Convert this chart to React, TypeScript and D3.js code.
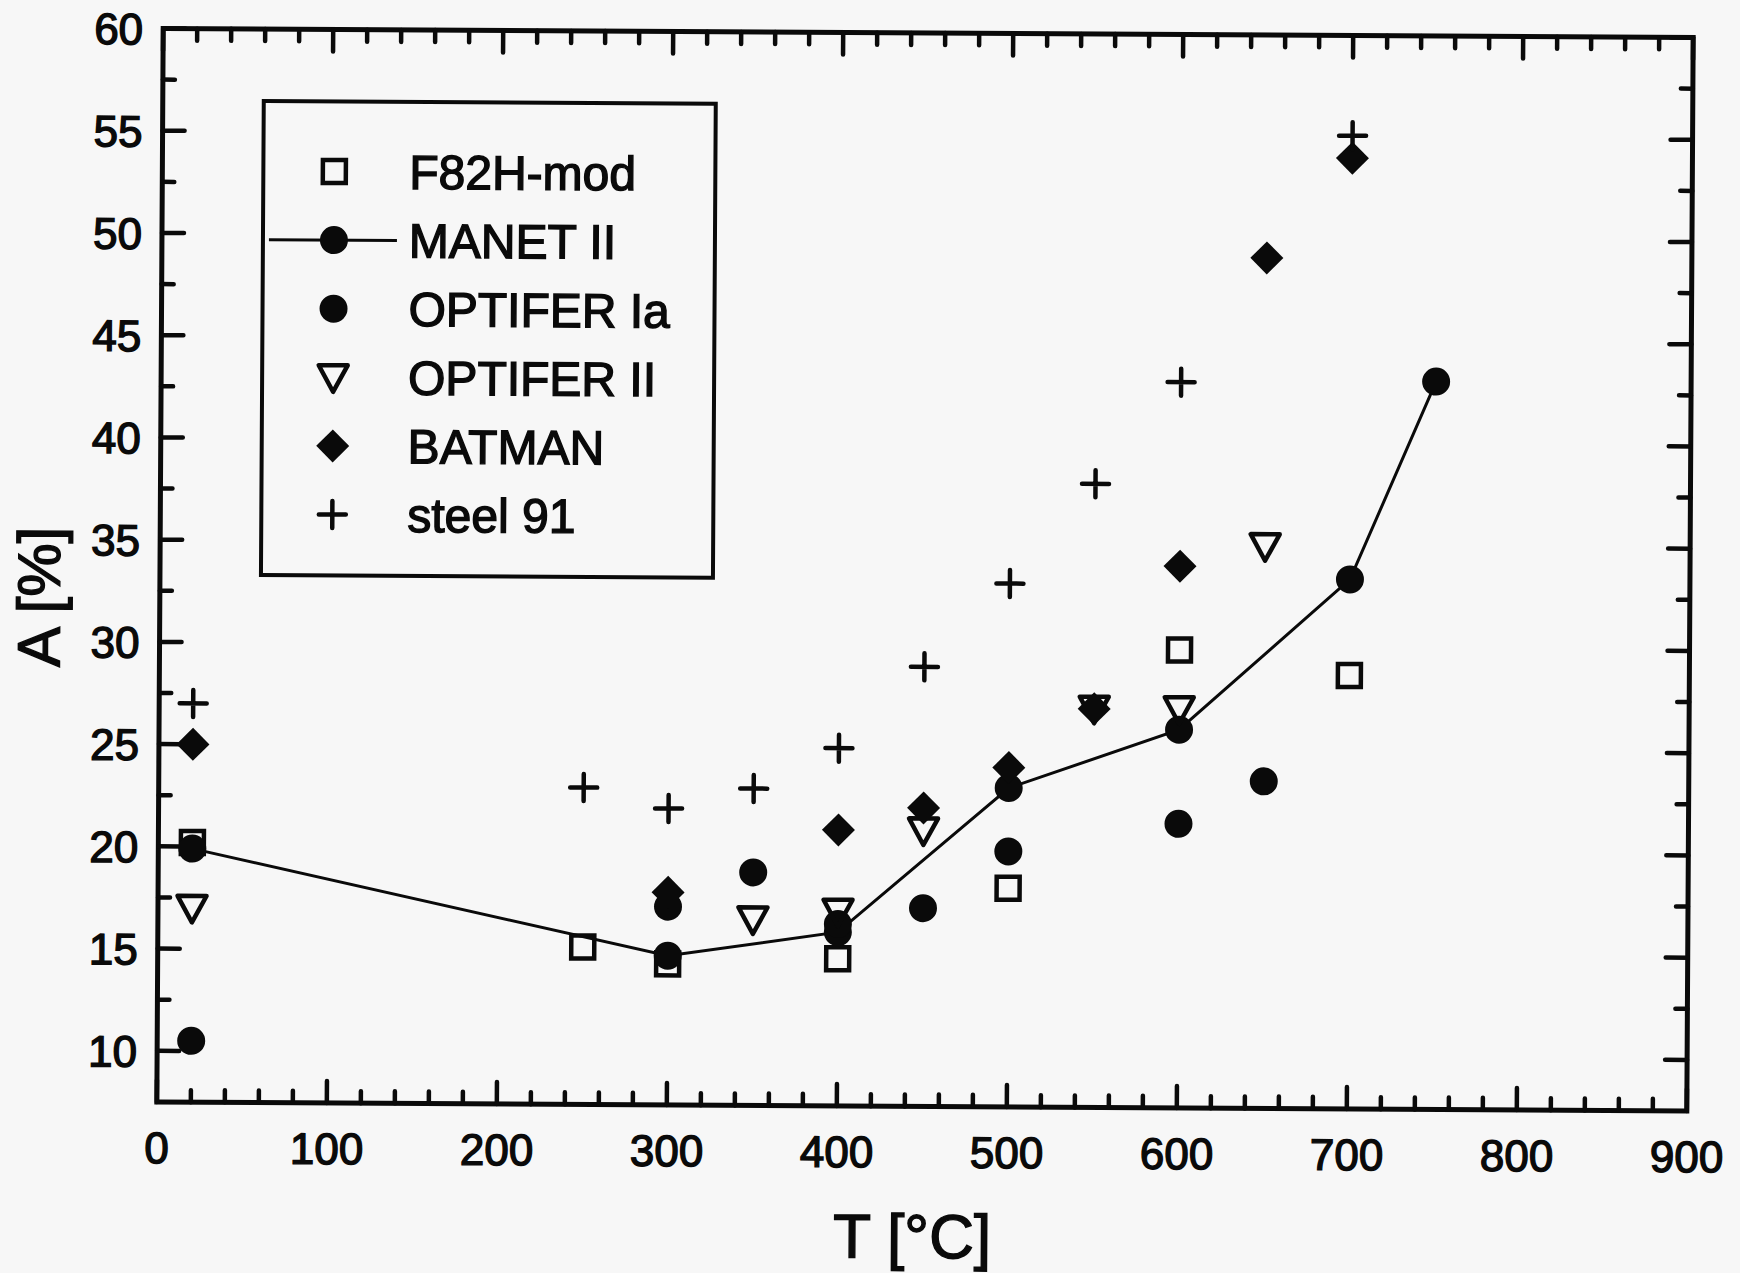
import React from "react";
import * as d3 from "d3";

// ---- data (T in °C, A in %) ----
const f82hMod: [number, number][] = [[20, 20.2], [250, 15.2], [300, 14.4], [400, 14.7], [500, 18.2], [600, 29.9], [700, 28.7]];
const manetII: [number, number][] = [[20, 19.9], [300, 14.8], [400, 16.0], [500, 23.1], [600, 26.0], [700, 33.4], [750, 43.1]];
const optiferIa: [number, number][] = [[20, 10.5], [300, 17.2], [350, 18.9], [400, 16.4], [450, 17.2], [500, 20.0], [600, 21.4], [650, 23.5]];
const optiferII: [number, number][] = [[20, 17.0], [350, 16.6], [400, 17.0], [450, 21.0], [550, 27.0], [600, 27.0], [650, 35.0]];
const batman: [number, number][] = [[20, 25.0], [300, 17.9], [400, 21.0], [450, 22.1], [500, 24.1], [550, 27.0], [600, 34.0], [650, 49.1], [700, 54.0]];
const steel91: [number, number][] = [[20, 27.0], [250, 23.0], [300, 22.0], [350, 23.0], [400, 25.0], [450, 29.0], [500, 33.1], [550, 38.0], [600, 43.0], [700, 55.1]];

const legendLabels = ["F82H-mod", "MANET II", "OPTIFER Ia", "OPTIFER II", "BATMAN", "steel 91"];
const xMajorTicks = [0, 100, 200, 300, 400, 500, 600, 700, 800, 900];
const yMajorTicks = [10, 15, 20, 25, 30, 35, 40, 45, 50, 55, 60];
const xTitle = "T [°C]";
const yTitle = "A [%]";

const W = 1740;
const H = 1273;
const INK = "#0a0a0a";
const BG = "#f7f7f7";
const FONT = "'Liberation Sans', Arial, Helvetica, sans-serif";
const TXT_STROKE = 1.4;

type Kind = "square" | "lineCircle" | "circle" | "triangle" | "diamond" | "plus";

function Marker({ kind, cx, cy }: { kind: Kind; cx: number; cy: number }) {
  switch (kind) {
    case "square":
      return <rect x={cx - 11.5} y={cy - 11.5} width={23} height={23} fill="none" stroke={INK} strokeWidth={4.5} />;
    case "lineCircle":
    case "circle":
      return <circle cx={cx} cy={cy} r={14} fill={INK} />;
    case "triangle":
      return (
        <path
          d={`M${cx - 14.5},${cy - 12}L${cx + 14.5},${cy - 12}L${cx},${cy + 14.5}Z`}
          fill="none"
          stroke={INK}
          strokeWidth={4.5}
          strokeLinejoin="round"
        />
      );
    case "diamond":
      return <path d={`M${cx},${cy - 16.5}L${cx + 16.5},${cy}L${cx},${cy + 16.5}L${cx - 16.5},${cy}Z`} fill={INK} />;
    case "plus":
      return (
        <path
          d={`M${cx - 13.5},${cy}H${cx + 13.5}M${cx},${cy - 13.5}V${cy + 13.5}`}
          stroke={INK}
          strokeWidth={4.5}
          strokeLinecap="round"
        />
      );
  }
  return null;
}

export default function App() {
  const x = d3.scaleLinear().domain([0, 900]).range([160, 1690]);
  const y = d3.scaleLinear().domain([7.5, 60]).range([1106.5, 33]);
  const [x0, x1] = x.range();
  const [y0, y1] = [y(7.5), y(60)];

  const xMinor = d3.range(0, 901, 20).filter((v) => v % 100 !== 0);
  const yMinor = d3.range(7.5, 60.01, 2.5).filter((v) => !yMajorTicks.includes(v) && v > 7.5);

  const series: { data: [number, number][]; kind: Kind }[] = [
    { data: f82hMod, kind: "square" },
    { data: manetII, kind: "lineCircle" },
    { data: optiferIa, kind: "circle" },
    { data: optiferII, kind: "triangle" },
    { data: batman, kind: "diamond" },
    { data: steel91, kind: "plus" },
  ];
  const line = d3
    .line<[number, number]>()
    .x((d) => x(d[0]))
    .y((d) => y(d[1]));

  const tickW = 4.5;
  const majLen = 22;
  const minLen = 12;

  const legendX = 261;
  const legendY = 105;
  const legendW = 452;
  const legendH = 474;
  const rowBase = 192;
  const rowStep = 68.6;

  return (
    <div style={{ position: "fixed", left: 0, top: 0, width: W, height: H, background: BG }}>
      <svg width={W} height={H} viewBox={`0 0 ${W} ${H}`} style={{ display: "block" }}>
        <rect x={0} y={0} width={W} height={H} fill={BG} />
        <g transform={`rotate(0.34 ${(x0 + x1) / 2} ${(y0 + y1) / 2})`}>
          {/* frame */}
          <rect x={x0} y={y1} width={x1 - x0} height={y0 - y1} fill="none" stroke={INK} strokeWidth={5} />
          {/* x ticks */}
          {xMajorTicks.map((v) => (
            <g key={"xm" + v}>
              <line x1={x(v)} x2={x(v)} y1={y0} y2={y0 - majLen} stroke={INK} strokeWidth={tickW} strokeLinecap="round" />
              <line x1={x(v)} x2={x(v)} y1={y1} y2={y1 + majLen} stroke={INK} strokeWidth={tickW} strokeLinecap="round" />
              <text x={x(v)} y={y0 + 61} textAnchor="middle" fontFamily={FONT} fontSize={44} fill={INK} stroke={INK} strokeWidth={TXT_STROKE}>
                {v}
              </text>
            </g>
          ))}
          {xMinor.map((v) => (
            <g key={"xn" + v}>
              <line x1={x(v)} x2={x(v)} y1={y0} y2={y0 - minLen} stroke={INK} strokeWidth={tickW} strokeLinecap="round" />
              <line x1={x(v)} x2={x(v)} y1={y1} y2={y1 + minLen} stroke={INK} strokeWidth={tickW} strokeLinecap="round" />
            </g>
          ))}
          {/* y ticks */}
          {yMajorTicks.map((v) => (
            <g key={"ym" + v}>
              <line x1={x0} x2={x0 + majLen} y1={y(v)} y2={y(v)} stroke={INK} strokeWidth={tickW} strokeLinecap="round" />
              <line x1={x1} x2={x1 - majLen} y1={y(v)} y2={y(v)} stroke={INK} strokeWidth={tickW} strokeLinecap="round" />
              <text x={x0 - 20} y={y(v) + 16} textAnchor="end" fontFamily={FONT} fontSize={44} fill={INK} stroke={INK} strokeWidth={TXT_STROKE}>
                {v}
              </text>
            </g>
          ))}
          {yMinor.map((v) => (
            <g key={"yn" + v}>
              <line x1={x0} x2={x0 + minLen} y1={y(v)} y2={y(v)} stroke={INK} strokeWidth={tickW} strokeLinecap="round" />
              <line x1={x1} x2={x1 - minLen} y1={y(v)} y2={y(v)} stroke={INK} strokeWidth={tickW} strokeLinecap="round" />
            </g>
          ))}
          {/* axis titles */}
          <text x={916} y={1258} textAnchor="middle" fontFamily={FONT} fontSize={62} fill={INK} stroke={INK} strokeWidth={TXT_STROKE}>
            {xTitle}
          </text>
          <text
            transform={`translate(60, 602) rotate(-90)`}
            textAnchor="middle"
            fontFamily={FONT}
            fontSize={60}
            fill={INK}
            stroke={INK}
            strokeWidth={TXT_STROKE}
          >
            {yTitle}
          </text>

          {/* MANET II connecting line */}
          <path d={line(manetII) || ""} fill="none" stroke={INK} strokeWidth={3} />

          {/* data markers */}
          {series.map((s, si) =>
            s.data.map((d, i) => <Marker key={si + "-" + i} kind={s.kind} cx={x(d[0])} cy={y(d[1])} />)
          )}

          {/* legend */}
          <rect x={legendX} y={legendY} width={legendW} height={legendH} fill="none" stroke={INK} strokeWidth={4} />
          {legendLabels.map((lab, i) => {
            const by = rowBase + i * rowStep;
            const cy = by - 17;
            const kind = series[i].kind;
            return (
              <g key={lab}>
                {kind === "lineCircle" && <line x1={267} x2={395} y1={cy} y2={cy} stroke={INK} strokeWidth={3} />}
                <Marker kind={kind} cx={332} cy={cy} />
                <text x={407} y={by} fontFamily={FONT} fontSize={48} fill={INK} stroke={INK} strokeWidth={TXT_STROKE}>
                  {lab}
                </text>
              </g>
            );
          })}
        </g>
      </svg>
    </div>
  );
}
